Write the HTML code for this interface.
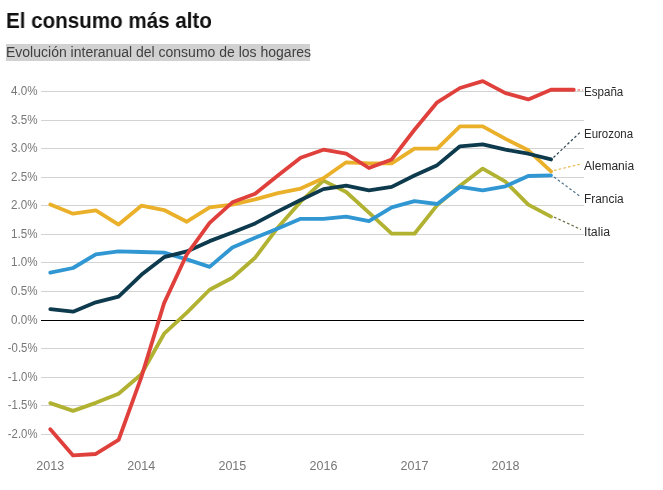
<!DOCTYPE html>
<html><head><meta charset="utf-8"><style>
html,body{margin:0;padding:0;background:#fff;}
body{width:663px;height:490px;position:relative;overflow:hidden;font-family:"Liberation Sans",sans-serif;}
.title{position:absolute;left:6.4px;top:9.5px;font-size:22.5px;font-weight:bold;color:#111;white-space:nowrap;line-height:1;transform:scaleX(0.915);transform-origin:0 0;}
.sub{position:absolute;left:6px;top:44px;width:304px;height:16.6px;background:#d1d1d1;}
.subt{position:absolute;left:6px;top:44.5px;font-size:14px;color:#3f3f3f;white-space:nowrap;line-height:1;}
svg{position:absolute;left:0;top:0;will-change:transform;}
.title,.subt{will-change:transform;}
.yl{font-size:12.5px;fill:#777;}
.xl{font-size:12.5px;fill:#777;}
.rl{font-size:12.5px;fill:#2a2a2a;}
</style></head><body>
<div class="title">El consumo más alto</div>
<div class="sub"></div>
<div class="subt">Evolución interanual del consumo de los hogares</div>
<svg width="663" height="490" viewBox="0 0 663 490">
<line x1="41" y1="91.5" x2="584" y2="91.5" stroke="#d3d3d3" stroke-width="1"/>
<line x1="41" y1="120.5" x2="584" y2="120.5" stroke="#d3d3d3" stroke-width="1"/>
<line x1="41" y1="148.5" x2="584" y2="148.5" stroke="#d3d3d3" stroke-width="1"/>
<line x1="41" y1="177.5" x2="584" y2="177.5" stroke="#d3d3d3" stroke-width="1"/>
<line x1="41" y1="205.5" x2="584" y2="205.5" stroke="#d3d3d3" stroke-width="1"/>
<line x1="41" y1="234.5" x2="584" y2="234.5" stroke="#d3d3d3" stroke-width="1"/>
<line x1="41" y1="262.5" x2="584" y2="262.5" stroke="#d3d3d3" stroke-width="1"/>
<line x1="41" y1="291.5" x2="584" y2="291.5" stroke="#d3d3d3" stroke-width="1"/>
<line x1="41" y1="348.5" x2="584" y2="348.5" stroke="#d3d3d3" stroke-width="1"/>
<line x1="41" y1="377.5" x2="584" y2="377.5" stroke="#d3d3d3" stroke-width="1"/>
<line x1="41" y1="405.5" x2="584" y2="405.5" stroke="#d3d3d3" stroke-width="1"/>
<line x1="41" y1="434.5" x2="584" y2="434.5" stroke="#d3d3d3" stroke-width="1"/>
<text x="37.5" y="95.2" text-anchor="end" class="yl" textLength="26.5" lengthAdjust="spacingAndGlyphs">4.0%</text>
<text x="37.5" y="124.2" text-anchor="end" class="yl" textLength="26.5" lengthAdjust="spacingAndGlyphs">3.5%</text>
<text x="37.5" y="152.2" text-anchor="end" class="yl" textLength="26.5" lengthAdjust="spacingAndGlyphs">3.0%</text>
<text x="37.5" y="181.2" text-anchor="end" class="yl" textLength="26.5" lengthAdjust="spacingAndGlyphs">2.5%</text>
<text x="37.5" y="209.2" text-anchor="end" class="yl" textLength="26.5" lengthAdjust="spacingAndGlyphs">2.0%</text>
<text x="37.5" y="238.2" text-anchor="end" class="yl" textLength="26.5" lengthAdjust="spacingAndGlyphs">1.5%</text>
<text x="37.5" y="266.2" text-anchor="end" class="yl" textLength="26.5" lengthAdjust="spacingAndGlyphs">1.0%</text>
<text x="37.5" y="295.2" text-anchor="end" class="yl" textLength="26.5" lengthAdjust="spacingAndGlyphs">0.5%</text>
<text x="37.5" y="324.2" text-anchor="end" class="yl" textLength="26.5" lengthAdjust="spacingAndGlyphs">0.0%</text>
<text x="37.5" y="352.2" text-anchor="end" class="yl" textLength="29.7" lengthAdjust="spacingAndGlyphs">-0.5%</text>
<text x="37.5" y="381.2" text-anchor="end" class="yl" textLength="29.7" lengthAdjust="spacingAndGlyphs">-1.0%</text>
<text x="37.5" y="409.2" text-anchor="end" class="yl" textLength="29.7" lengthAdjust="spacingAndGlyphs">-1.5%</text>
<text x="37.5" y="438.2" text-anchor="end" class="yl" textLength="29.7" lengthAdjust="spacingAndGlyphs">-2.0%</text>
<line x1="41" y1="320.5" x2="584" y2="320.5" stroke="#000" stroke-width="1.1"/>
<text x="50.30" y="470" text-anchor="middle" class="xl" textLength="27.9" lengthAdjust="spacingAndGlyphs">2013</text>
<text x="141.34" y="470" text-anchor="middle" class="xl" textLength="27.9" lengthAdjust="spacingAndGlyphs">2014</text>
<text x="232.38" y="470" text-anchor="middle" class="xl" textLength="27.9" lengthAdjust="spacingAndGlyphs">2015</text>
<text x="323.42" y="470" text-anchor="middle" class="xl" textLength="27.9" lengthAdjust="spacingAndGlyphs">2016</text>
<text x="414.46" y="470" text-anchor="middle" class="xl" textLength="27.9" lengthAdjust="spacingAndGlyphs">2017</text>
<text x="505.50" y="470" text-anchor="middle" class="xl" textLength="27.9" lengthAdjust="spacingAndGlyphs">2018</text>
<line x1="553.5" y1="157.5" x2="581" y2="131.5" stroke="#2c4350" stroke-width="1.2" stroke-dasharray="2.6,2.2"/>
<line x1="554" y1="170.5" x2="581" y2="164" stroke="#e6b850" stroke-width="1.2" stroke-dasharray="2.6,2.2"/>
<line x1="554" y1="177" x2="581" y2="197" stroke="#4f7590" stroke-width="1.2" stroke-dasharray="2.6,2.2"/>
<line x1="554" y1="217" x2="581" y2="229.5" stroke="#6f7048" stroke-width="1.2" stroke-dasharray="2.6,2.2"/>
<line x1="577.5" y1="90" x2="583" y2="90" stroke="#e0403b" stroke-width="1.2" stroke-dasharray="2.6,2.2"/>
<path d="M50.30,403.14 L73.06,410.85 L95.82,402.85 L118.58,393.71 L141.34,374.28 L164.10,333.71 L186.86,312.57 L209.62,289.72 L232.38,277.72 L255.14,257.72 L277.90,227.43 L300.66,201.72 L323.42,180.58 L346.18,192.01 L368.94,212.58 L391.70,233.72 L414.46,233.72 L437.22,205.15 L459.98,185.72 L482.74,168.58 L505.50,181.72 L528.26,204.58 L551.02,216.58" fill="none" stroke="#b1b231" stroke-width="3.8" stroke-linejoin="round" stroke-linecap="round"/>
<path d="M50.30,272.57 L73.06,268.00 L95.82,254.29 L118.58,251.43 L141.34,252.00 L164.10,252.57 L186.86,259.43 L209.62,266.86 L232.38,247.43 L255.14,237.72 L277.90,228.58 L300.66,218.86 L323.42,218.86 L346.18,216.58 L368.94,221.15 L391.70,207.43 L414.46,201.15 L437.22,204.01 L459.98,186.86 L482.74,190.29 L505.50,186.29 L528.26,176.01 L551.02,175.44" fill="none" stroke="#3097d3" stroke-width="3.8" stroke-linejoin="round" stroke-linecap="round"/>
<path d="M50.30,204.58 L73.06,213.72 L95.82,210.29 L118.58,224.58 L141.34,205.72 L164.10,210.01 L186.86,221.72 L209.62,207.43 L232.38,204.58 L255.14,199.43 L277.90,193.15 L300.66,188.58 L323.42,178.29 L346.18,162.29 L368.94,163.44 L391.70,163.44 L414.46,148.58 L437.22,148.58 L459.98,126.30 L482.74,126.30 L505.50,138.87 L528.26,150.29 L551.02,171.44" fill="none" stroke="#eab02a" stroke-width="3.8" stroke-linejoin="round" stroke-linecap="round"/>
<path d="M50.30,309.14 L73.06,311.71 L95.82,302.29 L118.58,296.57 L141.34,274.86 L164.10,257.15 L186.86,251.43 L209.62,241.15 L232.38,232.58 L255.14,223.43 L277.90,211.43 L300.66,200.01 L323.42,189.15 L346.18,185.72 L368.94,190.29 L391.70,186.86 L414.46,175.44 L437.22,165.15 L459.98,146.29 L482.74,144.29 L505.50,149.72 L528.26,153.72 L551.02,159.44" fill="none" stroke="#0e3a4d" stroke-width="3.8" stroke-linejoin="round" stroke-linecap="round"/>
<path d="M50.30,429.14 L73.06,455.42 L95.82,453.99 L118.58,439.99 L141.34,377.14 L164.10,303.14 L186.86,254.29 L209.62,222.86 L232.38,202.29 L255.14,193.72 L277.90,175.44 L300.66,157.72 L323.42,149.72 L346.18,153.72 L368.94,168.01 L391.70,159.44 L414.46,129.72 L437.22,102.30 L459.98,88.01 L482.74,81.15 L505.50,93.15 L528.26,99.44 L551.02,89.73 L573.78,89.73" fill="none" stroke="#e0403b" stroke-width="3.8" stroke-linejoin="round" stroke-linecap="round"/>
<text x="584" y="95.8" class="rl" textLength="39.3" lengthAdjust="spacingAndGlyphs">España</text>
<text x="584" y="137.7" class="rl" textLength="49.1" lengthAdjust="spacingAndGlyphs">Eurozona</text>
<text x="584" y="170.4" class="rl" textLength="50.2" lengthAdjust="spacingAndGlyphs">Alemania</text>
<text x="584" y="202.5" class="rl" textLength="39.7" lengthAdjust="spacingAndGlyphs">Francia</text>
<text x="584" y="235.7" class="rl" textLength="26" lengthAdjust="spacingAndGlyphs">Italia</text>
</svg>
</body></html>
